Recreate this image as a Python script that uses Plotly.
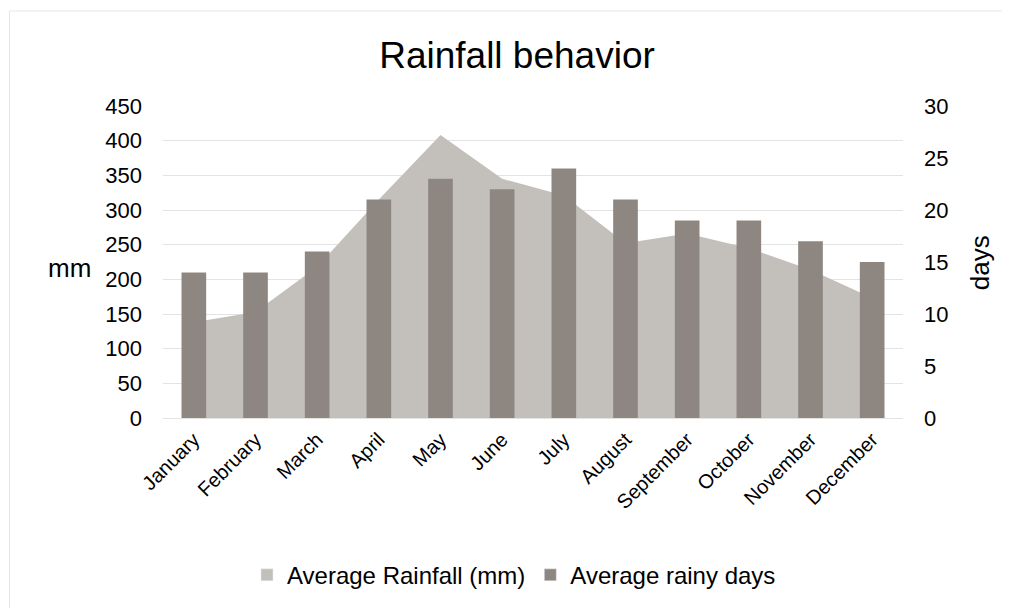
import plotly.graph_objects as go

months = ["January", "February", "March", "April", "May", "June", "July",
          "August", "September", "October", "November", "December"]
rainfall_mm = [138, 153, 218, 315, 408, 345, 321, 252, 266, 245, 214, 173]
rainy_days = [14, 14, 16, 21, 23, 22, 24, 21, 19, 19, 17, 15]
mm_ticks = list(range(0, 451, 50))
day_ticks = list(range(0, 31, 5))

AREA_COLOR = "#C3C0BC"
BAR_COLOR = "#8E8781"
GRID = "#E3E3E3"
FONT = "Liberation Sans, Arial, sans-serif"

OFF = 8  # browser body margin
W, H = 1010 - OFF, 608 - OFF
L, R, T, B = 163 - OFF, 903 - OFF, 106 - OFF, 419.5 - OFF

fig = go.Figure()
fig.add_trace(go.Scatter(
    x=months, y=rainfall_mm, name="Average Rainfall (mm)",
    mode="lines", fill="tozeroy", fillcolor=AREA_COLOR,
    line=dict(width=0, color=AREA_COLOR), yaxis="y", showlegend=False,
    legendgroup="rain",
))
fig.add_trace(go.Bar(
    x=months, y=rainy_days, name="Average rainy days",
    marker=dict(color=BAR_COLOR, line=dict(width=0)), width=0.4, yaxis="y2",
    showlegend=False, legendgroup="days",
))
# legend entries (square swatches, as in the reference)
fig.add_trace(go.Bar(x=[None], y=[None], name="Average Rainfall (mm)",
                     marker=dict(color=AREA_COLOR), legendgroup="rain", yaxis="y"))
fig.add_trace(go.Bar(x=[None], y=[None], name="Average rainy days",
                     marker=dict(color=BAR_COLOR), legendgroup="days", yaxis="y2"))


def px_x(p):
    return (p - OFF - L) / (R - L)


def px_y(p):
    return (B - (p - OFF)) / (B - T)


fig.update_layout(
    width=W, height=H,
    margin=dict(l=L, r=W - R, t=T, b=H - B, pad=0),
    paper_bgcolor="white", plot_bgcolor="white",
    font=dict(family=FONT, size=22, color="#000000"),
    title=dict(text="Rainfall behavior", x=px_x(517), xref="paper", xanchor="center",
               y=1 - (55 - OFF) / H, yanchor="middle",
               font=dict(size=37, color="#000000", family=FONT)),
    xaxis=dict(type="category", tickangle=-45, showgrid=False,
               showline=True, linecolor=GRID, linewidth=1,
               ticks="", tickfont=dict(size=20), ticklabelstandoff=1,
               range=[-0.5, 11.5]),
    yaxis=dict(range=[0, 450], tickvals=mm_ticks, showgrid=True, gridcolor=GRID,
               gridwidth=1, zeroline=False, showline=False, ticks="",
               ticklabelstandoff=20, tickfont=dict(size=22)),
    yaxis2=dict(range=[0, 30], tickvals=day_ticks, overlaying="y", side="right",
                showgrid=False, zeroline=False, showline=False, ticks="",
                ticklabelstandoff=20, tickfont=dict(size=22)),
    legend=dict(orientation="h", x=px_x(514), xanchor="center", xref="paper",
                y=px_y(576), yanchor="middle", font=dict(size=24),
                itemwidth=30, traceorder="normal"),
    bargap=0.6,
    barmode="overlay",
    showlegend=True,
)

fig.add_annotation(text="mm", x=px_x(69), y=px_y(269), xref="paper", yref="paper",
                   showarrow=False, font=dict(size=26), xanchor="center", yanchor="middle")
fig.add_annotation(text="days", x=px_x(980), y=px_y(264), xref="paper", yref="paper",
                   showarrow=False, font=dict(size=26), textangle=-90,
                   xanchor="center", yanchor="middle")
fig.add_shape(type="rect", xref="paper", yref="paper",
              x0=px_x(9.5), x1=px_x(1015), y0=px_y(620), y1=px_y(10.5),
              line=dict(color="#E6E6E6", width=1), fillcolor="rgba(0,0,0,0)", layer="below")

fig.write_html("out.html")
